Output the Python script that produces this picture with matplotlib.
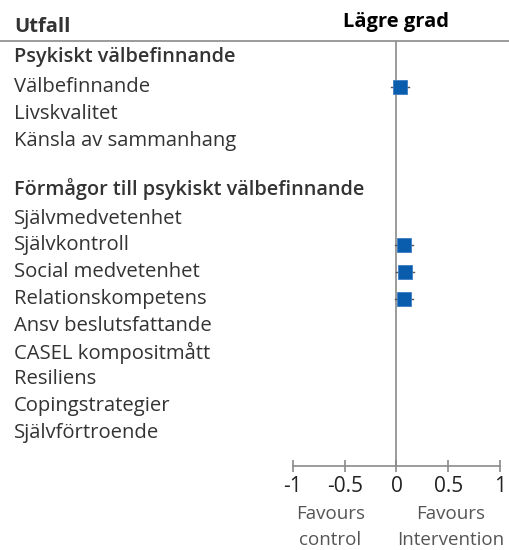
import matplotlib.pyplot as plt
from matplotlib.lines import Line2D
import matplotlib.transforms as mtransforms

plt.rcParams["font.family"] = ["Open Sans", "DejaVu Sans"]

# rows of the forest plot (None = no estimate)
labels = [
    "Psykiskt välbefinnande",
    "Välbefinnande",
    "Livskvalitet",
    "Känsla av sammanhang",
    "Förmågor till psykiskt välbefinnande",
    "Självmedvetenhet",
    "Självkontroll",
    "Social medvetenhet",
    "Relationskompetens",
    "Ansv beslutsfattande",
    "CASEL kompositmått",
    "Resiliens",
    "Copingstrategier",
    "Självförtroende",
]
is_header = [True, False, False, False, True, False, False, False, False,
             False, False, False, False, False]
effect = [None, 0.035, None, None, None, None, 0.07, 0.08, 0.07,
          None, None, None, None, None]
ci_low = [None, -0.05, None, None, None, None, -0.01, 0.0, -0.01,
          None, None, None, None, None]
ci_high = [None, 0.12, None, None, None, None, 0.16, 0.17, 0.16,
           None, None, None, None, None]

xticks = [-1, -0.5, 0, 0.5, 1]
xticklabels = ["-1", "-0.5", "0", "0.5", "1"]

W, H = 510, 550
fig = plt.figure(figsize=(W / 100, H / 100), dpi=100)

top_px, bottom_px = 41, 466
left_px, right_px = 293, 500
ax = fig.add_axes([left_px / W, 1 - bottom_px / H,
                   (right_px - left_px) / W, (bottom_px - top_px) / H])
ax.set_xlim(-1, 1)
ax.set_ylim(bottom_px, top_px)

# vertical row positions (pixels from top)
ypos = []
y = 57
for i, h in enumerate(is_header):
    if i > 0:
        if h:
            y += 48
        elif is_header[i - 1]:
            y += 30
        else:
            y += 26.8
    ypos.append(y)

text_col = "#333333"
grey = "#8a8a8a"
blue = "#0a5cad"

lab_tr = mtransforms.blended_transform_factory(fig.transFigure, ax.transData)
for lab, h, yy in zip(labels, is_header, ypos):
    ax.text(14 / W, yy, lab, transform=lab_tr, ha="left", va="center",
            fontsize=14.3 if h else 14.6, color=text_col,
            fontweight="semibold" if h else "normal", clip_on=False)

# zero line
ax.axvline(0, color=grey, lw=1.2)

# estimates
for e, lo, hi, yy in zip(effect, ci_low, ci_high, ypos):
    if e is None:
        continue
    ax.plot([lo, hi], [yy, yy], color="#555555", lw=1)
    ax.plot(e, yy, marker="s", ms=9.5, color=blue, mec="#3a7cc4", mew=0.6)

# top rule across the full width
fig.add_artist(Line2D([0, 1], [1 - top_px / H] * 2, transform=fig.transFigure,
                      color=grey, lw=1.2))

fig.text(14 / W, 1 - 27 / H, "Utfall", ha="left", va="center",
         fontsize=14.5, fontweight="bold", color=text_col)
ax.text(0, 22, "Lägre grad", ha="center", va="center",
        fontsize=14.5, fontweight="bold", color="black", clip_on=False)

# x axis
for s in ["top", "right", "left"]:
    ax.spines[s].set_visible(False)
ax.spines["bottom"].set_color(grey)
ax.spines["bottom"].set_linewidth(1.2)
ax.set_yticks([])
ax.set_xticks(xticks)
ax.set_xticklabels(xticklabels)
ax.tick_params(axis="x", direction="inout", length=8, width=1.2, color=grey,
               labelsize=15, labelcolor="#222222", pad=3)

ax.text(-0.64, bottom_px + 61, "Favours\ncontrol", ha="center", va="center",
        fontsize=13.5, color="#555555", linespacing=1.55, clip_on=False)
ax.text(0.52, bottom_px + 61, "Favours\nIntervention", ha="center", va="center",
        fontsize=13.5, color="#555555", linespacing=1.55, clip_on=False)

fig.savefig("out.png", dpi=100)
